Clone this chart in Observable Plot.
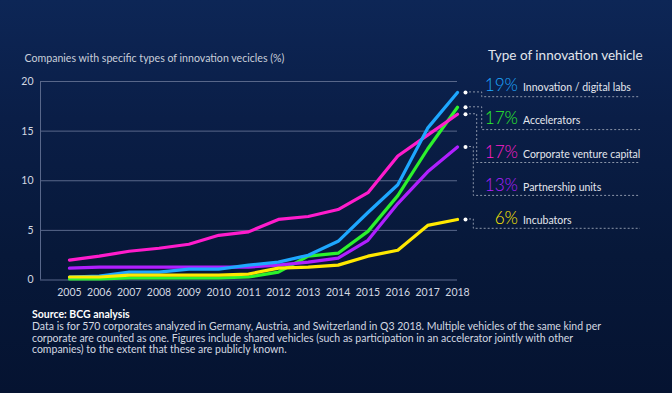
<!DOCTYPE html>
<html><head><meta charset="utf-8">
<script src="https://cdn.jsdelivr.net/npm/d3@7"></script>
<script src="https://cdn.jsdelivr.net/npm/@observablehq/plot@0.6"></script>
<style>
html,body{margin:0;padding:0;}
body{width:672px;height:393px;overflow:hidden;position:relative;
  background:linear-gradient(180deg,#0d2656 0%,#0a1e47 30%,#071839 65%,#051331 100%);
  font-family:Lato,"Open Sans",sans-serif;}
#chart svg{display:block}
#caption{position:absolute;left:32px;top:309px;font-size:10.5px;line-height:11.8px;color:#d3d8e1;white-space:nowrap}
#caption b{color:#ffffff}
</style></head><body>
<div id="chart"></div>
<div id="caption"><b>Source: BCG analysis</b><br>Data is for 570 corporates analyzed in Germany, Austria, and Switzerland in Q3 2018. Multiple vehicles of the same kind per<br>corporate are counted as one. Figures include shared vehicles (such as participation in an accelerator jointly with other<br>companies) to the extent that these are publicly known.</div>
<script>
const years = [2005,2006,2007,2008,2009,2010,2011,2012,2013,2014,2015,2016,2017,2018];
const labs    = [0.3,0.4,0.8,0.8,1.1,1.1,1.5,1.8,2.5,3.9,6.8,9.6,15.3,18.9];
const accel   = [0.1,0.1,0.2,0.2,0.2,0.2,0.3,0.8,2.4,2.7,4.9,8.5,13.2,17.4];
const cvc     = [2.0,2.4,2.9,3.2,3.6,4.5,4.85,6.1,6.4,7.1,8.8,12.5,14.6,16.7];
const partner = [1.2,1.3,1.3,1.3,1.3,1.3,1.3,1.5,1.8,2.2,4.0,7.7,10.9,13.4];
const incub   = [0.3,0.3,0.5,0.5,0.5,0.5,0.6,1.2,1.3,1.5,2.4,3.0,5.5,6.1];
const names   = ["Innovation / digital labs","Accelerators","Corporate venture capital","Partnership units","Incubators"];
const pctLabels = ["19%","17%","17%","13%","6%"];
const colors  = ["#1ea7ff","#2cf22c","#ff1ccc","#b01fff","#ffe800"];
const yTicks  = [0,5,10,15,20];
const subtitle = "Companies with specific types of innovation vecicles (%)";
const legendTitle = "Type of innovation vehicle";

const valuesByName = {[names[0]]:labs,[names[1]]:accel,[names[2]]:cvc,[names[3]]:partner,[names[4]]:incub};
const drawOrder = [names[1],names[3],names[2],names[0],names[4]];
const rows = [];
drawOrder.forEach(n => years.forEach((yr,i) => rows.push({vehicle:n, year:yr, value:valuesByName[n][i]})));
const lastRows = names.map(n => ({vehicle:n, year:years[years.length-1], value:valuesByName[n][years.length-1]}));

const xMin = 2004.03;
const plot = Plot.plot({
  width: 672, height: 308,
  marginTop: 81, marginBottom: 28.5, marginLeft: 40, marginRight: 215,
  style: {background:"transparent", color:"#d3d8e2", fontFamily:"Lato, sans-serif", fontSize:"10.5px"},
  x: {domain:[xMin, 2018], ticks: years, tickFormat: d => String(d), tickSize: 0, tickPadding: 9, label: null},
  y: {domain:[0,20], ticks: yTicks, tickSize: 0, tickPadding: 7, label: null},
  color: {domain: names, range: colors},
  marks: [
    Plot.ruleY(yTicks, {stroke:"#58678a", strokeWidth:1}),
    Plot.ruleX([xMin], {y1:0, y2:20, stroke:"#58678a", strokeWidth:1}),
    Plot.lineY(rows, {x:"year", y:"value", z:"vehicle", stroke:"vehicle", strokeWidth:3.2, strokeLinejoin:"round", strokeLinecap:"round"}),
    Plot.dot(lastRows, {x:"year", y:"value", dx:8, r:2, fill:"#ffffff", stroke:null})
  ]
});
document.getElementById("chart").appendChild(plot);

const svg = d3.select(plot);
const sx = plot.scale("x"), sy = plot.scale("y");
const ann = svg.append("g").attr("text-anchor","start").attr("font-family","Lato, sans-serif");
ann.append("text").attr("x",24.5).attr("y",62).attr("fill","#c9cfda")
  .attr("font-size","10.6px").text(subtitle);
ann.append("text").attr("x",488).attr("y",59.5).attr("fill","#e2e6ed")
  .attr("font-size","13.5px").text(legendTitle);

const dotX = sx.apply(years[years.length-1]) + 8;
const joinX = [481.7,481.7,476.7,473.3,473.3];
const g = svg.append("g").attr("fill","none").attr("stroke","#8a94a8").attr("stroke-width",1).attr("stroke-dasharray","2,2");
names.forEach((n,i) => {
  const dy = sy.apply(valuesByName[n][years.length-1]);
  const lineY = 96.7 + i*32.9;
  g.append("path").attr("d",`M${dotX+4},${dy}H${joinX[i]}V${lineY}H640`);
  const base = 90.7 + i*33.4;
  ann.append("text").attr("x",518).attr("y",base).attr("text-anchor","end")
    .attr("fill",colors[i]).attr("font-size","17.2px").attr("font-weight",300).text(pctLabels[i]);
  ann.append("text").attr("x",523).attr("y",base).attr("text-anchor","start").attr("fill","#e4e7ee")
    .attr("font-size","10.5px").text(n);
});
</script>
</body></html>
